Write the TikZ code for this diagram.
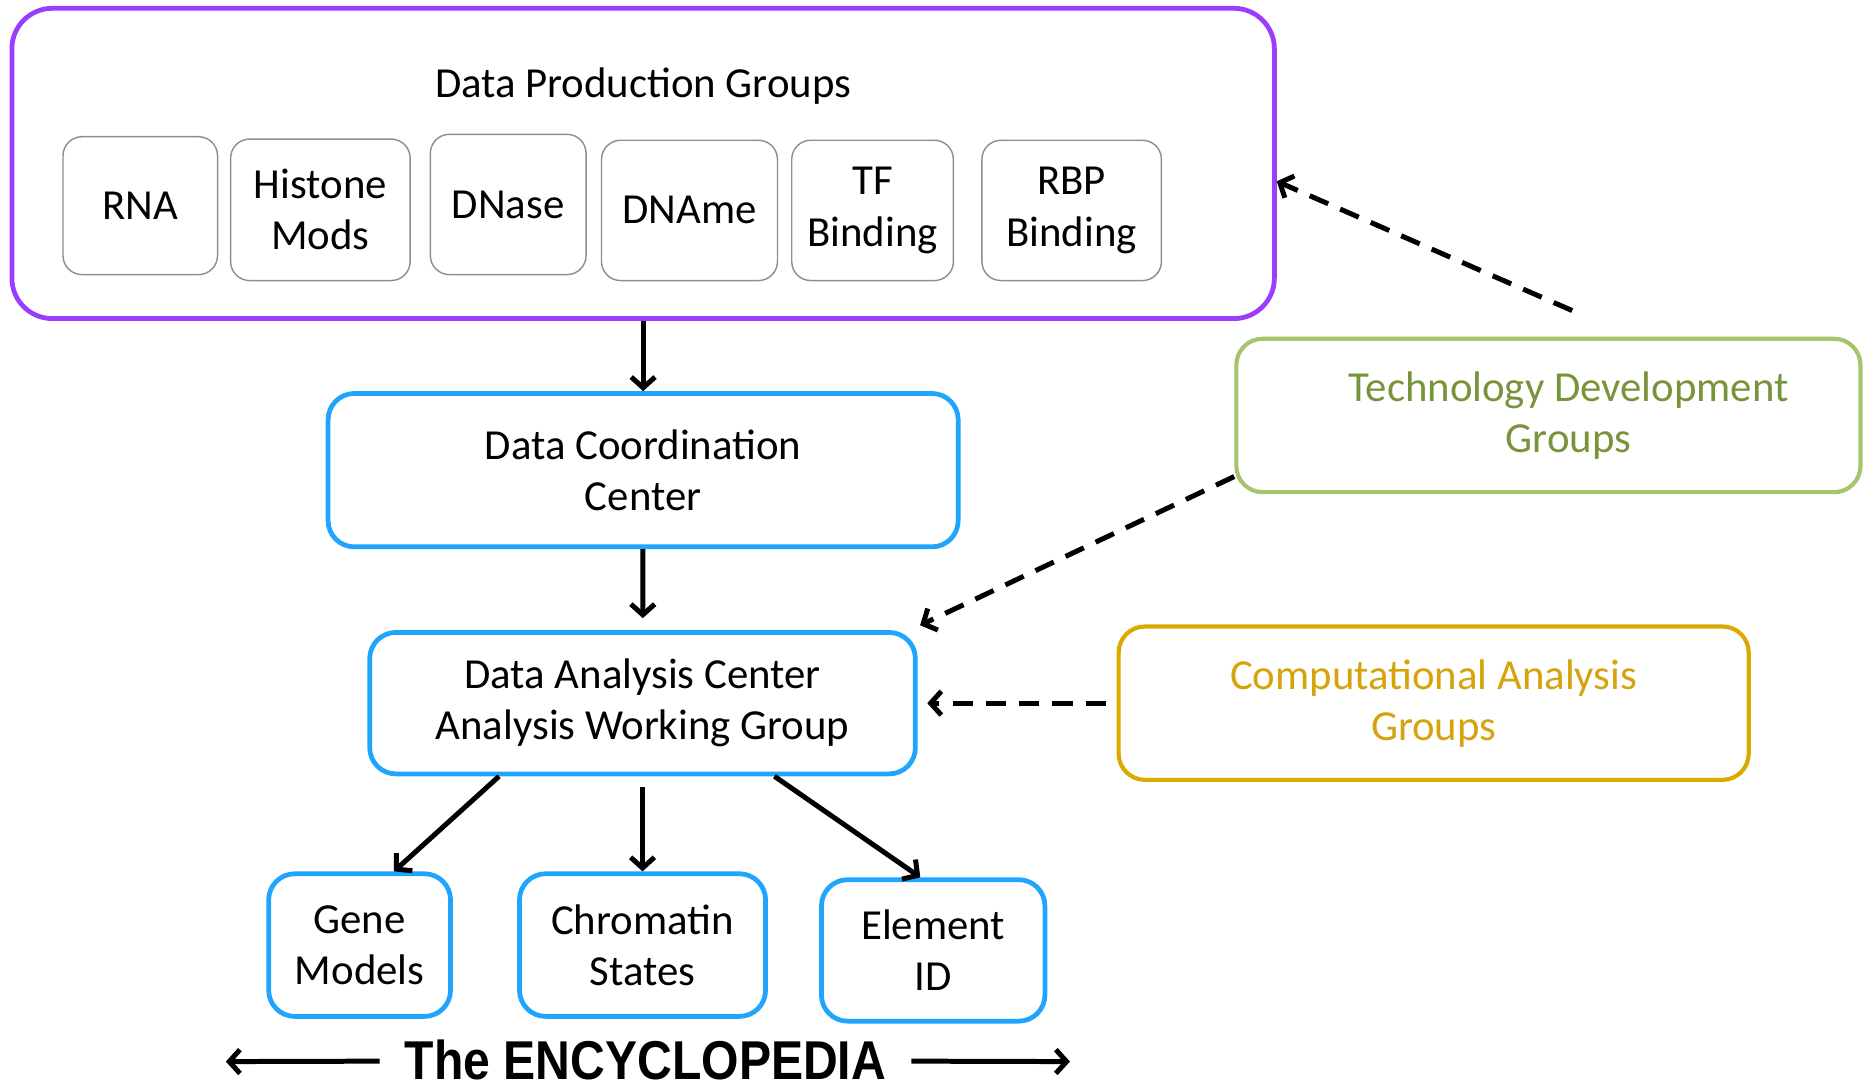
\documentclass[tikz,border=0pt]{standalone}
\usepackage{fontspec}
\usepackage{graphicx}
\setmainfont{Carlito}
\newfontfamily\encyfont{Liberation Sans}
\usepackage{tikz}
\usetikzlibrary{arrows.meta,positioning,calc}
\definecolor{prodc}{HTML}{9B3DFF}
\definecolor{centre}{HTML}{20A5FF}
\definecolor{techline}{HTML}{A7C46C}
\definecolor{techtext}{HTML}{77943B}
\definecolor{compline}{HTML}{D9AA00}
\definecolor{comptext}{HTML}{D5A30C}
\definecolor{cellline}{HTML}{8E8E8E}
\newcommand{\boxfont}{\fontsize{36}{43}\selectfont}
\tikzset{
  groupbox/.style={draw=prodc, line width=4pt, rounded corners=34pt, inner sep=0pt},
  cellbox/.style={draw=cellline, line width=1.2pt, rounded corners=16pt,
                  align=center, inner sep=0pt, font=\boxfont},
  centrebox/.style={draw=centre, line width=4pt, rounded corners=22pt,
                    align=center, inner sep=0pt, font=\boxfont},
  techbox/.style={draw=techline, line width=3.5pt, rounded corners=22pt,
                  align=center, inner sep=0pt, font=\boxfont, text=techtext},
  compbox/.style={draw=compline, line width=3.5pt, rounded corners=22pt,
                  align=center, inner sep=0pt, font=\boxfont, text=comptext},
  flowarrow/.style={draw=black, line width=4.2pt, -{Straight Barb[length=9pt,width=20pt]}},
  dasharrow/.style={flowarrow, dash pattern=on 17pt off 11pt}
}
\begin{document}
\begin{tikzpicture}[x=1pt,y=-1pt]
  \useasboundingbox (0,0) rectangle (1568,915);
  % data production groups
  \node[groupbox, minimum width=1062pt, minimum height=261pt] (prod) at (541,137.5) {};
  \node[font=\boxfont] (prodtitle) at (541,72) {Data Production Groups};
  \foreach \nm/\cx/\cy/\w/\h/\txt in {rna/118/173/130/116/RNA,
      histone/269.5/176.5/151/119/{Histone\\Mods},
      dnase/427.5/172/131/118/DNase,
      dname/580/177/148/118/DNAme,
      tf/734/177/136/118/{TF\\Binding},
      rbp/901.5/177/151/118/{RBP\\Binding}} {
    \node[cellbox, minimum width=\w pt, minimum height=\h pt] (\nm) at (\cx,\cy) {\txt};
  }
  % centres
  \node[centrebox, minimum width=530pt, minimum height=129pt] (dcc) at (541,395.5)
    {Data Coordination\\Center};
  \node[centrebox, minimum width=459pt, minimum height=119pt] (dac) at (540.5,591.5)
    {Data Analysis Center\\Analysis Working Group};
  \node[centrebox, minimum width=153pt, minimum height=120pt] (gene) at (302.5,795)
    {Gene\\Models};
  \node[centrebox, minimum width=207pt, minimum height=120pt] (chrom) at (540.5,795)
    {Chromatin\\States};
  \node[centrebox, minimum width=188pt, minimum height=119pt] (elem) at (785,799.5)
    {Element\\ID};
  % outside groups
  \node[techbox, minimum width=525pt, minimum height=129pt] (tech) at (1302.5,349.5)
    {\hspace*{34pt}Technology Development\\\hspace*{34pt}Groups};
  \node[compbox, minimum width=530pt, minimum height=129pt] (comp) at (1206,591.5)
    {Computational Analysis\\Groups};
  \node[font=\encyfont\bfseries\fontsize{46}{46}\selectfont, inner xsep=21pt, inner ysep=0pt]
    (ency) at (543,892) {\scalebox{0.88}[1]{The ENCYCLOPEDIA}};
  \coordinate (encyleft) at (190,893);
  \coordinate (encyright) at (900,893);
  \coordinate (techtip) at ([xshift=20pt,yshift=22pt]tech.north);
  % connectors
  \draw[flowarrow] (prod) -- (dcc);
  \draw[flowarrow, shorten >=10pt] (dcc) -- (dac);
  \draw[flowarrow] (dac.207) -- (gene.65);
  \draw[flowarrow, shorten <=9pt] (dac.south) -- (chrom.north);
  \draw[flowarrow] (dac.-29) -- (elem.100);
  \draw[dasharrow] (techtip) -- ([yshift=-15pt]prod.east);
  \draw[dasharrow] (tech.191) -- ([xshift=2pt,yshift=4pt]dac.north east);
  \draw[dasharrow, shorten <=9pt, shorten >=8pt] (comp.west) -- (dac.east);
  \draw[flowarrow] (ency) -- (encyleft);
  \draw[flowarrow] (ency) -- (encyright);
\end{tikzpicture}
\end{document}
